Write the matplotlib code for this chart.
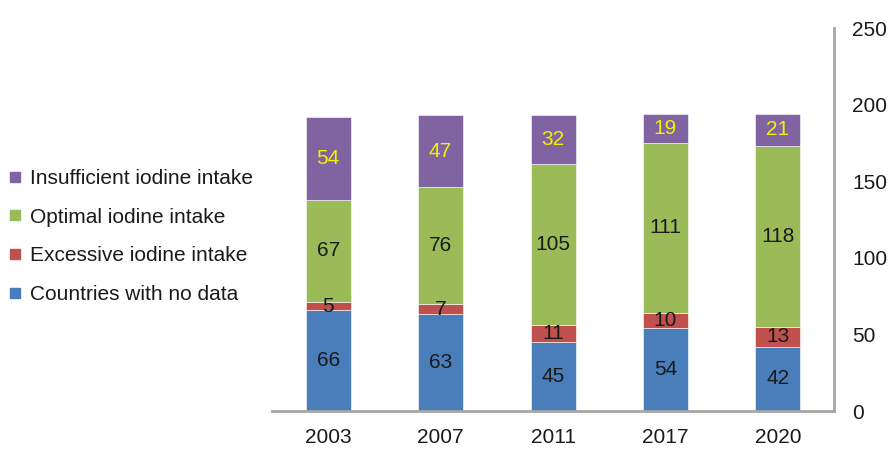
import matplotlib.pyplot as plt
import numpy as np
from matplotlib.lines import Line2D

years = ["2003", "2007", "2011", "2017", "2020"]
no_data = [66, 63, 45, 54, 42]
excessive = [5, 7, 11, 10, 13]
optimal = [67, 76, 105, 111, 118]
insufficient = [54, 47, 32, 19, 21]

series = [
    ("Countries with no data", no_data, "#4a7ebb", "#1a1a1a"),
    ("Excessive iodine intake", excessive, "#c0504d", "#1a1a1a"),
    ("Optimal iodine intake", optimal, "#9bbb59", "#1a1a1a"),
    ("Insufficient iodine intake", insufficient, "#8064a2", "#f5f000"),
]

plt.rcParams['font.family'] = ['Liberation Sans', 'DejaVu Sans']
fs = 15

fig = plt.figure(figsize=(8.93, 4.49), dpi=100)
ax = fig.add_axes([0.3046, 0.0846, 0.6294, 0.853])

x = np.arange(len(years))
bottom = np.zeros(len(years))
for name, vals, color, tcolor in series:
    vals = np.array(vals, dtype=float)
    ax.bar(x, vals, 0.4, bottom=bottom, color=color, edgecolor="white", linewidth=0.4)
    for xi, b, v in zip(x, bottom, vals):
        ax.text(xi, b + v / 2, f"{int(v)}", ha="center", va="center",
                fontsize=fs, color=tcolor)
    bottom += vals

ax.set_xlim(-0.5, 4.5)
ax.set_ylim(0, 250)
ax.set_xticks(x)
ax.set_xticklabels(years, fontsize=fs, color="#1a1a1a")
ax.yaxis.tick_right()
ax.set_yticks([0, 50, 100, 150, 200, 250])
ax.tick_params(axis="y", length=0, pad=13, labelsize=fs, labelcolor="#1a1a1a")
ax.tick_params(axis="x", length=0, pad=12)
for s in ["top", "left"]:
    ax.spines[s].set_visible(False)
for s in ["bottom", "right"]:
    ax.spines[s].set_color("#a6a6a6")
    ax.spines[s].set_linewidth(2)

handles = [Line2D([], [], marker="s", linestyle="none", markersize=6.5,
                  color=c, markeredgecolor=c) for _, _, c, _ in series[::-1]]
labels = [n for n, _, _, _ in series[::-1]]
fig.legend(handles, labels, loc="upper left", bbox_to_anchor=(0.008, 0.624),
           frameon=False, fontsize=fs, labelspacing=0.95, handlelength=0.8,
           handletextpad=0.3, borderpad=0, borderaxespad=0,
           labelcolor="#1a1a1a")

fig.savefig("out.png", dpi=100)
